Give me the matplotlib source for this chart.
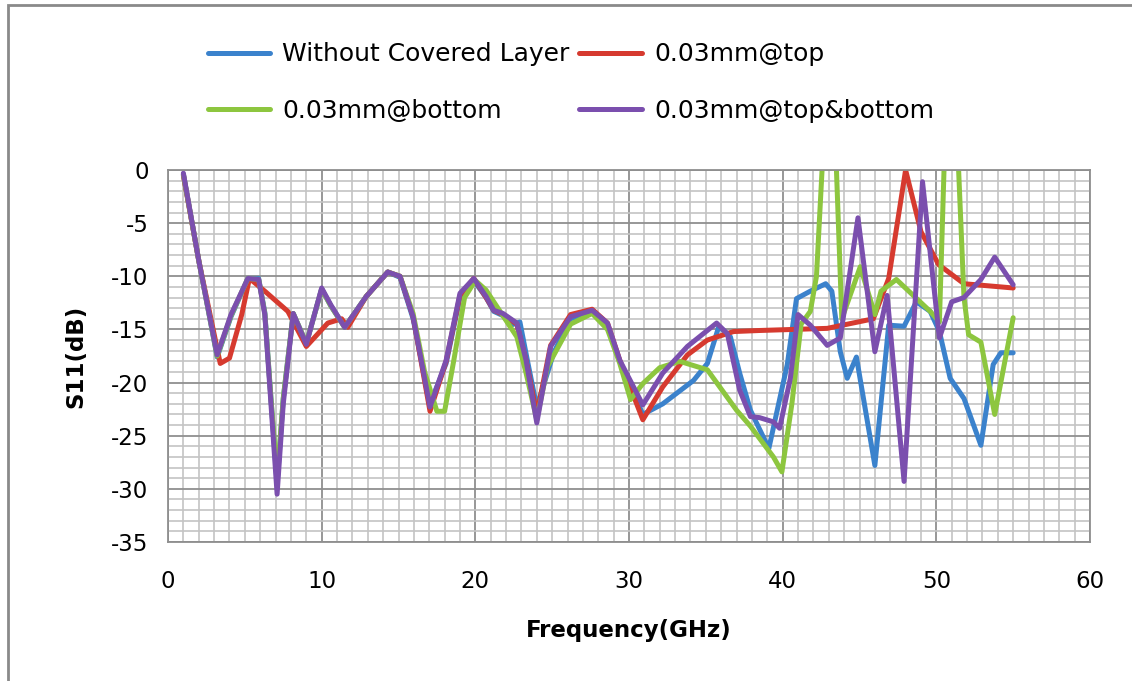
"""S11 vs frequency for four covering-layer variants (Excel-style chart)."""

import matplotlib
matplotlib.use("Agg")
import matplotlib.pyplot as plt  # noqa: E402
from matplotlib.patches import Rectangle  # noqa: E402
from matplotlib.ticker import MultipleLocator  # noqa: E402

plt.rcParams["axes.unicode_minus"] = False

# --- data (GHz, dB) ---
blue_f = [1, 2, 3.2, 4.1, 5.2, 5.9, 6.3, 6.7, 7.1, 7.5, 8.15, 9.0, 10.0, 10.6,
          11.5, 12.9, 14.3, 15.1, 15.95, 17.05, 18.1, 19.0, 19.9, 20.7, 21.2,
          21.8, 22.3, 22.9, 23.4, 24.0, 25.1, 26.2, 27.6, 28.6, 29.4, 30.9,
          32.2, 34.2, 35.1, 35.85, 36.6, 37.2, 37.9, 39.1, 40.3, 40.9, 41.8,
          42.8, 43.2, 43.75, 44.2, 44.8, 46.0, 46.9, 47.9, 48.7, 49.6, 50.2,
          50.9, 51.8, 52.9, 53.7, 54.2, 55]
blue_s11 = [-0.4, -8.5, -17.6, -13.8, -10.2, -10.2, -13.4, -21.5, -29.5, -21.5,
            -13.5, -16.3, -11.2, -12.8, -14.8, -11.9, -9.6, -10.1, -14.0, -22.0,
            -18.2, -12.0, -10.4, -12.0, -13.3, -13.7, -14.6, -14.3, -18.0, -22.3,
            -17.2, -14.0, -13.4, -14.6, -18.0, -23.0, -22.0, -19.8, -18.2, -14.7,
            -15.7, -19.1, -22.6, -26.2, -18.3, -12.1, -11.4, -10.7, -11.4, -17.1,
            -19.6, -17.6, -27.8, -14.6, -14.7, -12.4, -13.3, -15.2, -19.6, -21.5,
            -25.9, -18.3, -17.2, -17.2]

red_f = [1, 2, 3.4, 4.0, 4.8, 5.3, 6.3, 7.8, 9.0, 10.4, 11.3, 11.7, 12.9, 14.3,
         15.1, 15.95, 17.05, 18.1, 19.0, 19.9, 20.7, 21.2, 21.8, 22.7, 23.3,
         24.0, 24.9, 26.2, 27.6, 28.6, 29.4, 30.9, 32.2, 33.8, 35.1, 36.8, 38.5,
         42.9, 45.9, 46.9, 48.0, 49.0, 50.15, 51.8, 55]
red_s11 = [-0.5, -8.5, -18.2, -17.7, -13.6, -10.2, -11.4, -13.3, -16.6, -14.4,
           -14.0, -14.8, -11.9, -9.6, -10.0, -13.8, -22.7, -18.0, -11.8, -10.2,
           -12.0, -13.2, -13.6, -14.5, -17.9, -23.0, -16.5, -13.6, -13.1, -14.4,
           -17.9, -23.5, -20.4, -17.4, -16.0, -15.2, -15.1, -14.9, -14.0, -10.2,
           0.0, -5.8, -8.9, -10.7, -11.1]

green_f = [1, 2, 3.2, 4.1, 5.2, 5.9, 6.3, 6.7, 7.1, 7.5, 8.15, 9.0, 10.0, 10.6,
           11.5, 12.9, 14.3, 15.1, 15.95, 16.7, 17.5, 18.0, 18.6, 19.3, 20.0,
           20.7, 21.7, 22.7, 23.3, 24.0, 24.7, 26.2, 27.6, 28.6, 29.4, 30.1,
           30.9, 32.0, 33.3, 35.1, 37.0, 37.9, 39.4, 39.95, 40.6, 41.2, 41.8,
           42.2, 42.6, 43.0, 43.5, 43.85, 45.05, 46.0, 46.4, 47.4, 48.5, 49.6,
           50.2, 50.5, 50.95, 51.45, 51.8, 52.1, 52.9, 53.8, 55.0]
green_s11 = [-0.4, -8.5, -17.5, -13.7, -10.2, -10.3, -13.5, -21.5, -29.0, -21.5,
             -13.5, -16.3, -11.2, -12.8, -14.8, -11.9, -9.6, -10.0, -13.5, -19.0,
             -22.7, -22.7, -17.9, -12.0, -10.4, -11.3, -13.5, -15.7, -19.1, -23.5,
             -18.5, -14.5, -13.5, -15.0, -18.2, -21.6, -20.1, -18.6, -18.0, -18.8,
             -22.6, -24.1, -27.0, -28.4, -22.0, -14.5, -13.3, -10.0, 1.0, 3.0,
             0.0, -14.0, -9.1, -13.6, -11.4, -10.3, -11.8, -13.3, -14.3, 0.0, 3.5,
             0.0, -12.0, -15.5, -16.2, -23.0, -13.9]

purple_f = [1, 2, 3.2, 4.1, 5.2, 5.9, 6.3, 6.7, 7.1, 7.5, 8.15, 9.0, 10.0, 10.6,
            11.5, 12.9, 14.3, 15.1, 15.95, 17.05, 18.1, 19.0, 19.9, 20.7, 21.2,
            21.8, 22.7, 23.3, 24.0, 24.9, 26.2, 27.6, 28.6, 29.4, 30.9, 32.2,
            33.8, 35.7, 36.4, 37.2, 37.9, 38.5, 39.4, 39.8, 40.5, 41.0, 41.8,
            42.9, 43.75, 44.9, 46.0, 46.8, 47.9, 49.1, 50.2, 51.0, 51.8, 52.9,
            53.8, 55]
purple_s11 = [-0.3, -8.5, -17.4, -13.6, -10.2, -10.3, -13.6, -22.0, -30.5, -22.0,
              -13.5, -16.4, -11.1, -12.7, -14.8, -11.9, -9.6, -10.0, -13.8, -22.3,
              -17.9, -11.6, -10.2, -11.9, -13.2, -13.5, -14.4, -17.9, -23.8, -16.6,
              -13.8, -13.2, -14.4, -17.9, -22.1, -19.1, -16.6, -14.4, -15.4, -20.7,
              -23.2, -23.3, -23.7, -24.3, -19.6, -13.6, -14.6, -16.5, -15.8, -4.5,
              -17.1, -11.8, -29.3, -1.1, -15.8, -12.4, -12.0, -10.3, -8.2, -10.8]

labels = ["Without Covered Layer", "0.03mm@top", "0.03mm@bottom",
          "0.03mm@top&bottom"]
colors = ["#3b82cc", "#d63a2f", "#8dc63f", "#7b4fae"]

W, H = 1132, 681
fig = plt.figure(figsize=(W / 100, H / 100), dpi=100)
ax = fig.add_axes([168 / W, 1 - 542 / H, (1090 - 168) / W, (542 - 170) / H])

series = [(blue_f, blue_s11), (red_f, red_s11), (green_f, green_s11),
          (purple_f, purple_s11)]
handles = []
for (f, s), c, lab in zip(series, colors, labels):
    h, = ax.plot(f, s, color=c, lw=3.6, solid_capstyle="round",
                 solid_joinstyle="round", label=lab)
    handles.append(h)

ax.set_xlim(0, 60)
ax.set_ylim(-35, 0)
ax.xaxis.set_major_locator(MultipleLocator(10))
ax.xaxis.set_minor_locator(MultipleLocator(1))
ax.yaxis.set_major_locator(MultipleLocator(5))
ax.yaxis.set_minor_locator(MultipleLocator(1))
ax.grid(which="major", color="#8f8f8f", lw=1.3)
ax.grid(which="minor", color="#c4c4c4", lw=1.2)
ax.set_axisbelow(True)
for sp in ax.spines.values():
    sp.set_color("#8f8f8f")
    sp.set_linewidth(1.3)
ax.tick_params(which="both", length=0)
ax.tick_params(axis="y", pad=14, labelsize=16.5)
ax.tick_params(axis="x", pad=20, labelsize=16.5)

ax.set_xlabel("Frequency(GHz)", fontsize=16.5, fontweight="bold", labelpad=19)
ax.set_ylabel("S11(dB)", fontsize=16.5, fontweight="bold", labelpad=17)

# legend fills column-first, so order handles to read row-wise like Excel
order = [0, 2, 1, 3]
fig.legend(handles=[handles[i] for i in order],
           labels=[labels[i] for i in order], ncol=2, frameon=False,
           loc="upper left", bbox_to_anchor=(185 / W, 1 - 20 / H),
           fontsize=18, handlelength=2.5, handletextpad=0.48,
           columnspacing=0.4, labelspacing=1.3)

# outer chart border (only top and left edges visible in the crop)
fig.add_artist(Rectangle((8 / W, -0.1), 1.2, 1.1 - 5 / H,
                         transform=fig.transFigure, fill=False,
                         edgecolor="#8a8a8a", lw=2))

fig.savefig("out.png", dpi=100)
